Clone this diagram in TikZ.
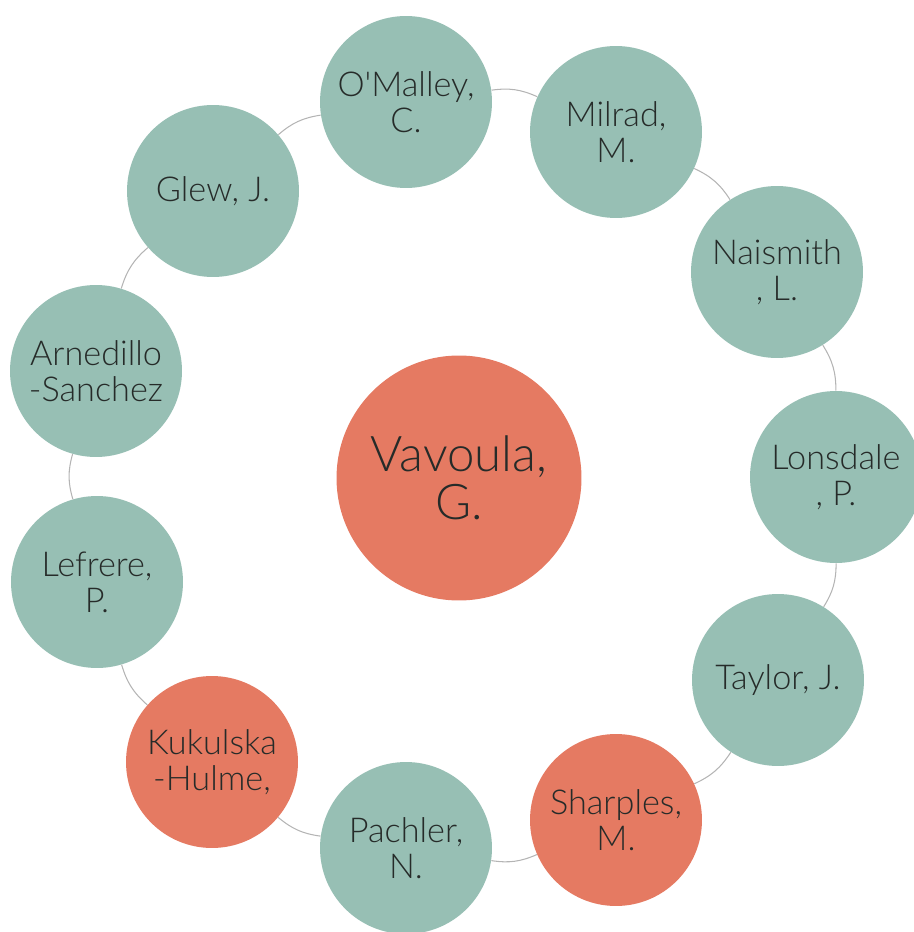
\documentclass[tikz,border=0pt]{standalone}
\usepackage{fontspec}
\setmainfont{Lato}[UprightFont=* Light,Ligatures=TeXOff]
\definecolor{teal}{HTML}{97BFB4}
\definecolor{coral}{HTML}{E57A62}
\definecolor{txt}{HTML}{262B29}
\definecolor{linkgray}{HTML}{B4B4B4}
\begin{document}
\begin{tikzpicture}[x=0.02cm,y=-0.02cm,
  person/.style={circle,minimum size=3.44cm,inner sep=0pt,text=txt,align=center,
    font=\fontsize{19.5}{20.5}\selectfont},
  tealnode/.style={person,fill=teal},
  coralnode/.style={person,fill=coral},
  bignode/.style={circle,fill=coral,minimum size=4.9cm,inner sep=0pt,text=txt,align=center,
    font=\fontsize{28}{27}\selectfont},
  link/.style={draw=linkgray,line width=0.6pt}]
\useasboundingbox (0,0) rectangle (913,932);
\node[bignode] (vav) at (459,478) {Vavoula,\\G.};
\node[tealnode] (oma) at (406,102) {O'Malley,\\C.};
\node[tealnode] (mil) at (616,132) {Milrad,\\M.};
\node[tealnode] (nai) at (777,272) {Naismith\\, L.};
\node[tealnode] (lon) at (836,477) {Lonsdale\\, P.};
\node[tealnode] (tay) at (778,680) {Taylor, J.};
\node[coralnode] (sha) at (616,820) {Sharples,\\M.};
\node[tealnode] (pac) at (406,848) {Pachler,\\N.};
\node[coralnode] (kuk) at (212,762) {Kukulska\\-Hulme,};
\node[tealnode] (lef) at (97,582) {Lefrere,\\P.};
\node[tealnode] (arn) at (96,371) {Arnedillo\\-Sanchez};
\node[tealnode] (gle) at (213,191) {Glew, J.};
\draw[link] (oma) to[bend left=16] (mil);
\draw[link] (mil) to[bend left=16] (nai);
\draw[link] (nai) to[bend left=16] (lon);
\draw[link] (lon) to[bend left=16] (tay);
\draw[link] (tay) to[bend left=16] (sha);
\draw[link] (sha) to[bend left=16] (pac);
\draw[link] (pac) to[bend left=16] (kuk);
\draw[link] (kuk) to[bend left=16] (lef);
\draw[link] (lef) to[bend left=16] (arn);
\draw[link] (arn) to[bend left=16] (gle);
\draw[link] (gle) to[bend left=16] (oma);
\end{tikzpicture}
\end{document}
